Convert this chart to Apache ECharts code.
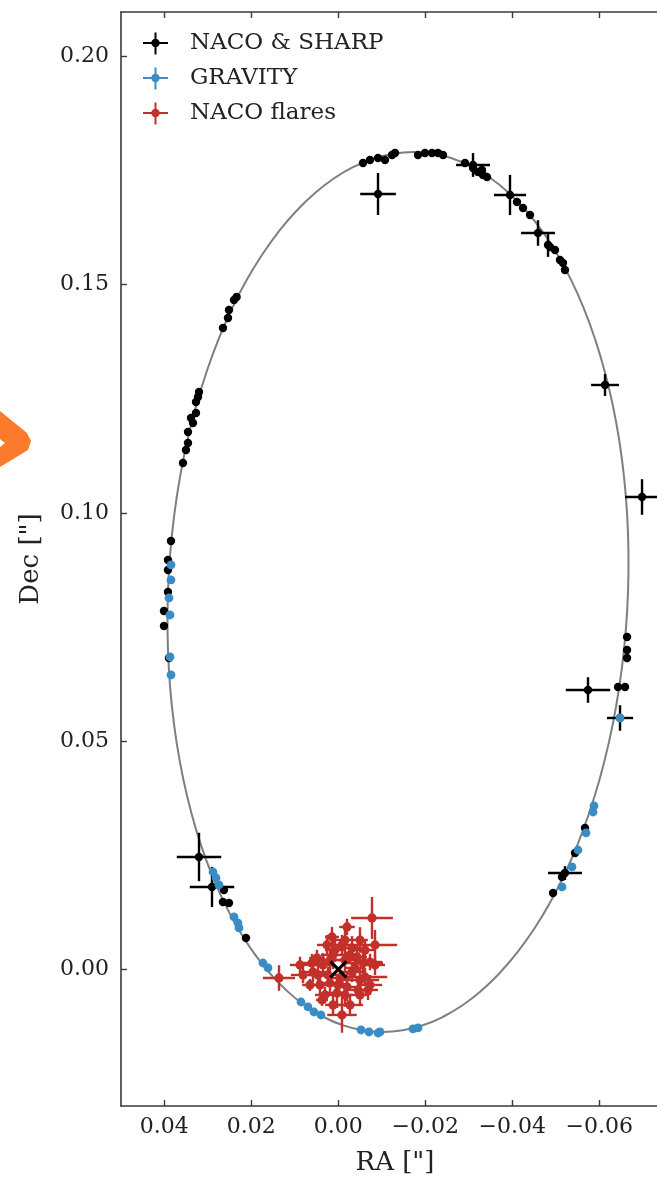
<!DOCTYPE html>
<html>
<head>
<meta charset="utf-8">
<title>S2 orbit</title>
<script src="https://cdn.jsdelivr.net/npm/echarts@6/dist/echarts.min.js"></script>
<style>
  html, body { margin: 0; padding: 0; background: #fff; }
  #chart { width: 657px; height: 1179px; }
</style>
</head>
<body>
<div id="chart"></div>
<script>
// Orbit curve, [RA, Dec] in arcsec
const orbitPath = [
  [-0.01726, 0.17904], [-0.02186, 0.17867], [-0.02639, 0.17757], [-0.03083, 0.17576],
  [-0.03513, 0.17324], [-0.03928, 0.17001], [-0.04323, 0.16612], [-0.04695, 0.16162],
  [-0.05042, 0.15648], [-0.05362, 0.15082], [-0.05650, 0.14461], [-0.05906, 0.13795],
  [-0.06128, 0.13086], [-0.06314, 0.12340], [-0.06462, 0.11564], [-0.06571, 0.10762],
  [-0.06641, 0.09941], [-0.06670, 0.09108], [-0.06660, 0.08268], [-0.06609, 0.07428],
  [-0.06518, 0.06594], [-0.06388, 0.05774], [-0.06220, 0.04972], [-0.06015, 0.04195],
  [-0.05774, 0.03449], [-0.05501, 0.02740], [-0.05195, 0.02074], [-0.04861, 0.01454],
  [-0.04500, 0.00887], [-0.04115, 0.00374], [-0.03709, -0.00077], [-0.03286, -0.00466],
  [-0.02848, -0.00788], [-0.02399, -0.01041], [-0.01942, -0.01222], [-0.01481, -0.01332],
  [-0.01018, -0.01369], [-0.00559, -0.01332], [-0.00106, -0.01222], [0.00338, -0.01041],
  [0.00769, -0.00788], [0.01183, -0.00466], [0.01578, -0.00077], [0.01950, 0.00374],
  [0.02297, 0.00887], [0.02617, 0.01454], [0.02905, 0.02074], [0.03162, 0.02740],
  [0.03383, 0.03449], [0.03569, 0.04195], [0.03717, 0.04972], [0.03826, 0.05774],
  [0.03896, 0.06594], [0.03926, 0.07428], [0.03915, 0.08268], [0.03864, 0.09108],
  [0.03773, 0.09941], [0.03643, 0.10762], [0.03475, 0.11564], [0.03270, 0.12340],
  [0.03029, 0.13086], [0.02756, 0.13795], [0.02450, 0.14461], [0.02116, 0.15082],
  [0.01755, 0.15648], [0.01370, 0.16162], [0.00965, 0.16612], [0.00541, 0.17001],
  [0.00103, 0.17324], [-0.00346, 0.17576], [-0.00803, 0.17757], [-0.01264, 0.17867]
];

// NACO & SHARP astrometry: [RA, Dec, RA error, Dec error]
const nacoSharp = [
  [-0.00568, 0.17663, 0, 0], [-0.00729, 0.17729, 0, 0], [-0.00913, 0.17773, 0, 0],
  [-0.01074, 0.17729, 0, 0], [-0.01235, 0.17838, 0, 0], [-0.01303, 0.17882, 0, 0],
  [-0.00913, 0.16984, 0.0041, 0.0046],
  [-0.01832, 0.17838, 0, 0], [-0.01993, 0.17882, 0, 0], [-0.02154, 0.17882, 0, 0],
  [-0.02292, 0.17882, 0, 0], [-0.02407, 0.17838, 0, 0],
  [-0.02913, 0.17663, 0, 0], [-0.03097, 0.17619, 0.0039, 0.0026], [-0.03097, 0.17554, 0, 0],
  [-0.03211, 0.17466, 0, 0], [-0.03303, 0.17510, 0, 0], [-0.03326, 0.17400, 0, 0],
  [-0.03418, 0.17357, 0, 0],
  [-0.03947, 0.16962, 0.0037, 0.0044], [-0.04108, 0.16809, 0, 0], [-0.04246, 0.16678, 0, 0],
  [-0.04407, 0.16524, 0, 0],
  [-0.04591, 0.16130, 0.0039, 0.0028], [-0.04821, 0.15867, 0.0008, 0.0026],
  [-0.04867, 0.15823, 0, 0], [-0.04982, 0.15758, 0, 0], [-0.05096, 0.15539, 0, 0],
  [-0.05165, 0.15473, 0, 0], [-0.05211, 0.15320, 0, 0],
  [-0.06131, 0.12801, 0.0032, 0.0024], [-0.06982, 0.10348, 0.0039, 0.0039],
  [-0.06637, 0.07282, 0, 0], [-0.06637, 0.06997, 0, 0], [-0.06637, 0.06822, 0, 0],
  [-0.06430, 0.06187, 0, 0], [-0.06591, 0.06187, 0, 0],
  [-0.05740, 0.06121, 0.0051, 0.0028], [-0.06476, 0.05508, 0.0030, 0.0028],
  [-0.05671, 0.03099, 0, 0], [-0.05441, 0.02551, 0, 0], [-0.05211, 0.02113, 0.0039, 0.0015],
  [-0.05142, 0.02026, 0, 0], [-0.04936, 0.01675, 0, 0],
  [0.03202, 0.02464, 0.0051, 0.0053], [0.02903, 0.01807, 0.0051, 0.0044],
  [0.02628, 0.01741, 0, 0], [0.02651, 0.01478, 0, 0], [0.02513, 0.01456, 0, 0],
  [0.02122, 0.00690, 0, 0],
  [0.03846, 0.09385, 0, 0], [0.03915, 0.08969, 0, 0], [0.03915, 0.08749, 0, 0],
  [0.03915, 0.08268, 0, 0], [0.04007, 0.07852, 0, 0], [0.04007, 0.07523, 0, 0],
  [0.03892, 0.06822, 0, 0],
  [0.03570, 0.11093, 0, 0], [0.03501, 0.11378, 0, 0], [0.03455, 0.11531, 0, 0],
  [0.03455, 0.11772, 0, 0], [0.03340, 0.11969, 0, 0], [0.03386, 0.12078, 0, 0],
  [0.03271, 0.12188, 0, 0], [0.03271, 0.12429, 0, 0], [0.03225, 0.12538, 0, 0],
  [0.03202, 0.12648, 0, 0],
  [0.02651, 0.14050, 0, 0], [0.02536, 0.14269, 0, 0], [0.02513, 0.14444, 0, 0],
  [0.02398, 0.14663, 0, 0], [0.02338, 0.14729, 0, 0]
];

// GRAVITY astrometry: [RA, Dec, RA error, Dec error]
const gravity = [
  [0.03846, 0.08859, 0, 0], [0.03846, 0.08531, 0, 0], [0.03892, 0.08136, 0, 0],
  [0.03869, 0.07764, 0, 0], [0.03869, 0.06844, 0, 0], [0.03846, 0.06450, 0, 0],
  [-0.06476, 0.05508, 0, 0], [-0.05878, 0.03581, 0, 0], [-0.05855, 0.03449, 0, 0],
  [-0.05694, 0.02990, 0, 0], [-0.05510, 0.02617, 0, 0], [-0.05372, 0.02245, 0, 0],
  [-0.05142, 0.01807, 0, 0],
  [-0.01832, -0.01281, 0, 0], [-0.01717, -0.01303, 0, 0], [-0.00959, -0.01369, 0, 0],
  [-0.00913, -0.01391, 0, 0], [-0.00706, -0.01369, 0, 0], [-0.00522, -0.01325, 0, 0],
  [0.00398, -0.00997, 0, 0], [0.00559, -0.00931, 0, 0], [0.00697, -0.00821, 0, 0],
  [0.00857, -0.00712, 0, 0], [0.01616, 0.00033, 0, 0], [0.01731, 0.00142, 0, 0],
  [0.02283, 0.00909, 0, 0], [0.02306, 0.01018, 0, 0], [0.02398, 0.01150, 0, 0],
  [0.02743, 0.01851, 0, 0], [0.02811, 0.02004, 0, 0], [0.02880, 0.02135, 0, 0]
];

// NACO flare positions: [RA, Dec, RA error, Dec error]
const nacoFlares = [
  [-0.00775, 0.01128, 0.0048, 0.0046], [-0.00200, 0.00931, 0.0018, 0.0018],
  [0.00145, 0.00712, 0.0016, 0.0022], [-0.00844, 0.00537, 0.0051, 0.0033],
  [-0.00499, 0.00646, 0.0018, 0.0028], [-0.00085, 0.00537, 0.0023, 0.0022],
  [-0.00315, 0.00471, 0.0021, 0.0026], [0.00490, 0.00252, 0.0018, 0.0018],
  [0.00605, 0.00142, 0.0023, 0.0020], [0.00352, 0.00099, 0.0028, 0.0026],
  [-0.00568, 0.00142, 0.0046, 0.0022], [-0.00729, 0.00164, 0.0028, 0.0018],
  [0.01363, -0.00186, 0.0037, 0.0028], [0.00811, -0.00120, 0.0028, 0.0018],
  [-0.00499, -0.00230, 0.0044, 0.0026], [-0.00200, -0.00383, 0.0023, 0.0031],
  [0.00191, -0.00296, 0.0032, 0.0026], [-0.00683, -0.00449, 0.0023, 0.0022],
  [0.00375, -0.00668, 0.0014, 0.0013], [-0.00269, -0.00777, 0.0030, 0.0022],
  [-0.00085, -0.00996, 0.0034, 0.0039], [0.00030, -0.00515, 0.0023, 0.0033],
  [-0.00315, -0.00055, 0.0028, 0.0022], [0.00582, -0.00055, 0.0032, 0.0022],
  [0.00122, 0.00318, 0.0028, 0.0031], [-0.00430, 0.00274, 0.0023, 0.0026],
  [-0.00154, 0.00208, 0.0032, 0.0024], [0.00237, -0.00120, 0.0023, 0.0018],
  [-0.00039, -0.00186, 0.0023, 0.0022], [-0.00614, -0.00164, 0.0051, 0.0020],
  [0.00076, 0.00427, 0.0023, 0.0026], [-0.00384, 0.00033, 0.0023, 0.0022],
  [0.00421, -0.00339, 0.0021, 0.0022], [-0.00154, -0.00558, 0.0018, 0.0026],
  [-0.00453, -0.00449, 0.0018, 0.0018], [0.00651, -0.00339, 0.0018, 0.0013],
  [0.00260, 0.00537, 0.0023, 0.0022], [-0.00614, 0.00427, 0.0023, 0.0022],
  [0.00880, 0.00099, 0.0023, 0.0018], [-0.00844, 0.00099, 0.0023, 0.0022],
  [0.00191, 0.00208, 0.0028, 0.0026], [-0.00269, 0.00318, 0.0023, 0.0020],
  [0.00007, -0.00339, 0.0028, 0.0022], [0.00467, -0.00120, 0.0023, 0.0022],
  [-0.00499, -0.00558, 0.0021, 0.0020], [-0.00154, 0.00646, 0.0021, 0.0026],
  [0.00306, -0.00558, 0.0023, 0.0018], [-0.00729, -0.00339, 0.0028, 0.0022],
  [0.00122, -0.00777, 0.0018, 0.0022]
];

// Position of the central mass
const centralMass = [[0, 0]];

const seriesNames = ['NACO & SHARP', 'GRAVITY', 'NACO flares'];
const seriesColors = ['#000000', '#3a8cc4', '#c3302a'];
const raTicks = [0.04, 0.02, 0.00, -0.02, -0.04, -0.06];
const decTicks = [0.00, 0.05, 0.10, 0.15, 0.20];

const FONT = "'DejaVu Serif', 'Liberation Serif', serif";

function tickText(v) {
  const s = Math.abs(v).toFixed(2);
  return (v < -1e-9 ? '\u2212' : '') + s;
}

// Closed orbit drawn once, as a smooth polygon through the projected points
function orbitItem(params, api) {
  if (params.dataIndex !== 0) return null;
  const pts = orbitPath.map(function (p) { return api.coord(p); });
  return {
    type: 'polygon',
    shape: { points: pts, smooth: 0.5 },
    style: { fill: 'none', stroke: '#7f7f7f', lineWidth: 2 }
  };
}

// Point with horizontal and vertical error bars
function errorBarItem(color, barWidth, radius) {
  return function (params, api) {
    const x = api.value(0), y = api.value(1);
    const ex = api.value(2), ey = api.value(3);
    const c = api.coord([x, y]);
    const children = [];
    const lineStyle = { stroke: color, lineWidth: barWidth };
    if (ex > 0) {
      const a = api.coord([x - ex, y]), b = api.coord([x + ex, y]);
      children.push({ type: 'line', shape: { x1: a[0], y1: a[1], x2: b[0], y2: b[1] }, style: lineStyle });
    }
    if (ey > 0) {
      const a = api.coord([x, y - ey]), b = api.coord([x, y + ey]);
      children.push({ type: 'line', shape: { x1: a[0], y1: a[1], x2: b[0], y2: b[1] }, style: lineStyle });
    }
    children.push({ type: 'circle', shape: { cx: c[0], cy: c[1], r: radius }, style: { fill: color } });
    return { type: 'group', children: children };
  };
}

function crossItem(params, api) {
  const c = api.coord([api.value(0), api.value(1)]);
  const d = 8;
  const st = { stroke: '#000', lineWidth: 3.2 };
  return {
    type: 'group',
    children: [
      { type: 'line', shape: { x1: c[0] - d, y1: c[1] - d, x2: c[0] + d, y2: c[1] + d }, style: st },
      { type: 'line', shape: { x1: c[0] - d, y1: c[1] + d, x2: c[0] + d, y2: c[1] - d }, style: st }
    ]
  };
}

const legendIcon = 'path://M0,9.5H25V11.5H0Z M11.5,0H13.5V22H11.5Z M8.3,10.5A4.2,4.2 0 1,1 16.7,10.5A4.2,4.2 0 1,1 8.3,10.5Z';

const axisLineStyle = { color: '#3a3a3a', width: 1.6 };
const tickStyle = { color: '#3a3a3a', width: 1.4 };
const barWidths = [2.4, 2.2, 2.4];
const radii = [4.2, 4.4, 4.6];

const chart = echarts.init(document.getElementById('chart'), null, { renderer: 'canvas' });

const datasets = [nacoSharp, gravity, nacoFlares];

chart.setOption({
  animation: false,
  backgroundColor: '#ffffff',
  color: seriesColors,
  grid: { left: 121, top: 12, width: 548, bottom: 73, outerBoundsMode: 'none', containLabel: false },
  legend: {
    orient: 'vertical',
    left: 143,
    top: 32,
    padding: 0,
    itemWidth: 25,
    itemHeight: 22,
    itemGap: 12,
    data: seriesNames.map(function (n) { return { name: n, icon: legendIcon }; }),
    textStyle: { fontFamily: FONT, fontSize: 23, lineHeight: 22, color: '#222', padding: [0, 0, 0, 17] },
    selectedMode: false
  },
  xAxis: [
    {
      type: 'value', position: 'bottom', inverse: true,
      min: -0.07602, max: 0.04995,
      name: 'RA ["]', nameLocation: 'middle', nameGap: 44,
      nameTextStyle: { fontFamily: FONT, fontSize: 26, color: '#222' },
      splitLine: { show: false },
      axisLine: { show: true, onZero: false, lineStyle: axisLineStyle },
      axisTick: { show: true, inside: true, length: 6, lineStyle: tickStyle, customValues: raTicks },
      axisLabel: { fontFamily: FONT, fontSize: 22, color: '#222', margin: 10, formatter: tickText, customValues: raTicks }
    },
    {
      type: 'value', position: 'top', inverse: true,
      min: -0.07602, max: 0.04995,
      splitLine: { show: false },
      axisLine: { show: true, onZero: false, lineStyle: axisLineStyle },
      axisTick: { show: true, inside: true, length: 6, lineStyle: tickStyle, customValues: raTicks },
      axisLabel: { show: false }
    }
  ],
  yAxis: [
    {
      type: 'value', position: 'left',
      min: -0.0299, max: 0.2097,
      name: 'Dec ["]', nameLocation: 'middle', nameGap: 77,
      nameTextStyle: { fontFamily: FONT, fontSize: 26, color: '#222' },
      splitLine: { show: false },
      axisLine: { show: true, onZero: false, lineStyle: axisLineStyle },
      axisTick: { show: true, inside: true, length: 6, lineStyle: tickStyle, customValues: decTicks },
      axisLabel: { fontFamily: FONT, fontSize: 22, color: '#222', margin: 12, formatter: tickText, customValues: decTicks }
    }
  ],
  graphic: [
    {
      type: 'polygon',
      shape: { points: [[0, 411], [27, 433], [31, 441], [28, 450], [0, 467], [0, 447], [5, 443], [0, 439]] },
      style: { fill: '#fc7a2c' },
      z: 100
    }
  ],
  series: [
    {
      name: 'orbit', type: 'custom', data: orbitPath, renderItem: orbitItem,
      encode: { x: 0, y: 1 }, z: 1, silent: true,
      xAxisIndex: 0, yAxisIndex: 0
    }
  ].concat(datasets.map(function (d, i) {
    return {
      name: seriesNames[i], type: 'custom', data: d,
      renderItem: errorBarItem(seriesColors[i], barWidths[i], radii[i]),
      itemStyle: { color: seriesColors[i] },
      encode: { x: 0, y: 1 }, z: 2 + i, clip: true,
      xAxisIndex: 0, yAxisIndex: 0
    };
  })).concat([
    {
      name: 'Sgr A*', type: 'custom', data: centralMass, renderItem: crossItem,
      encode: { x: 0, y: 1 }, z: 6, xAxisIndex: 0, yAxisIndex: 0
    }
  ])
});
</script>
</body>
</html>
